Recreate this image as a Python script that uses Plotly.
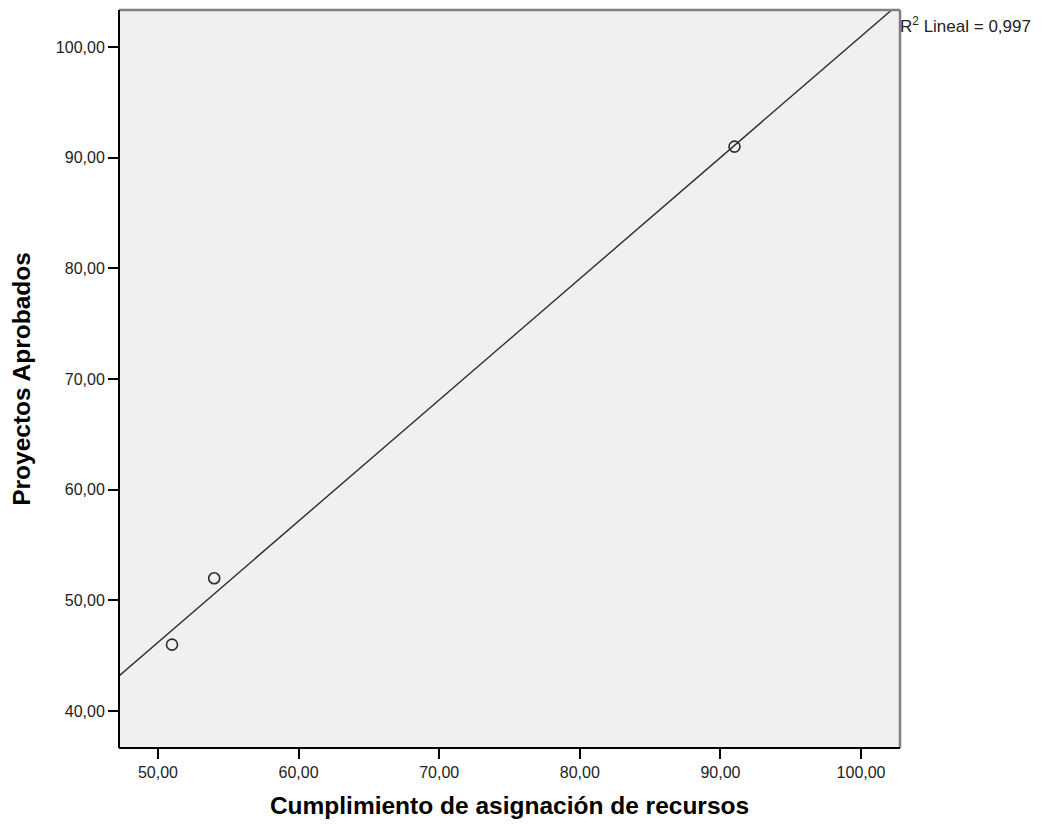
import numpy as np
import plotly.graph_objects as go

# Data
cumplimiento = [51.0, 54.0, 91.0]
proyectos = [46.0, 52.0, 91.0]
x_ticks = [50, 60, 70, 80, 90, 100]
y_ticks = [40, 50, 60, 70, 80, 90, 100]
x_range = [47.23, 102.77]
y_range = [36.66, 103.34]

slope, intercept = np.polyfit(cumplimiento, proyectos, 1)
r2 = np.corrcoef(cumplimiento, proyectos)[0, 1] ** 2
lx = np.array(x_range)
ly = slope * lx + intercept

fig = go.Figure()
fig.add_trace(go.Scatter(x=lx, y=ly, mode="lines",
                         line=dict(color="#2b2b2b", width=1.4),
                         hoverinfo="skip", showlegend=False, cliponaxis=True))
fig.add_trace(go.Scatter(x=cumplimiento, y=proyectos, mode="markers",
                         marker=dict(symbol="circle-open", size=11,
                                     color="#2b2b2b", line=dict(width=1.6)),
                         showlegend=False))

font_fam = "Liberation Sans, Arial, sans-serif"
# page body has an 8px margin, so the figure is shifted by 8px
fig.update_layout(
    width=1039, height=817,
    margin=dict(l=111, r=147, t=2, b=77),
    paper_bgcolor="white", plot_bgcolor="#f0f0f0",
    separators=",.",
    font=dict(family=font_fam, size=16, color="#222222"),
    showlegend=False,
)
fig.update_xaxes(range=x_range, tickvals=x_ticks, tickformat=".2f",
                 ticks="outside", ticklen=10, tickwidth=1.5, tickcolor="black",
                 showgrid=False, zeroline=False, showline=False,
                 tickfont=dict(size=16),
                 title=dict(text="<b>Cumplimiento de asignación de recursos</b>",
                            font=dict(size=24.5, color="black"), standoff=16))
fig.update_yaxes(range=y_range, tickvals=y_ticks, tickformat=".2f",
                 ticks="outside", ticklen=10, tickwidth=1.5, tickcolor="black",
                 showgrid=False, zeroline=False, showline=False,
                 tickfont=dict(size=16),
                 title=dict(text="<b>Proyectos Aprobados</b>",
                            font=dict(size=24.5, color="black"), standoff=19))

# Frame: gray top/right, black left/bottom
fig.add_shape(type="line", xref="paper", yref="paper", x0=0, x1=1, y0=1, y1=1,
              line=dict(color="#808080", width=2.5))
fig.add_shape(type="line", xref="paper", yref="paper", x0=1, x1=1, y0=0, y1=1,
              line=dict(color="#808080", width=2.5))
fig.add_shape(type="line", xref="paper", yref="paper", x0=0, x1=0, y0=0, y1=1,
              line=dict(color="black", width=2))
fig.add_shape(type="line", xref="paper", yref="paper", x0=0, x1=1, y0=0, y1=0,
              line=dict(color="black", width=2))

fig.add_annotation(xref="paper", yref="paper", x=1.0, y=0.98,
                   xanchor="left", yanchor="middle", showarrow=False, xshift=-2,
                   text="R<sup>2</sup> Lineal = " + f"{r2:.3f}".replace(".", ","),
                   font=dict(size=17, color="#222222"))

fig.write_html("out.html")
